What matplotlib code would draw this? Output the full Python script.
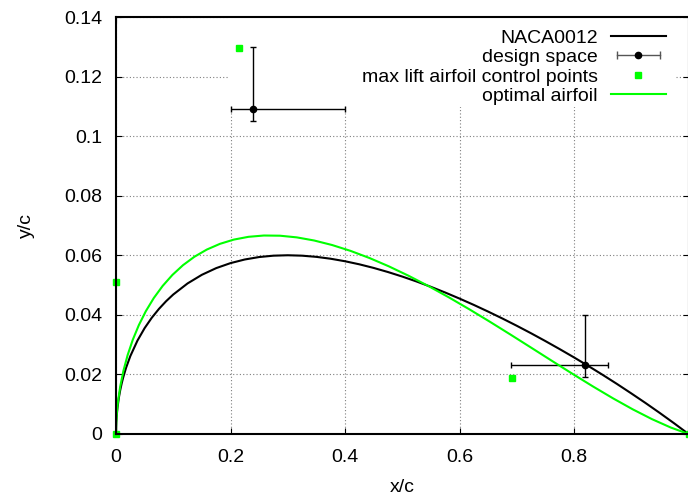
import matplotlib
matplotlib.use("Agg")
import matplotlib.pyplot as plt
from matplotlib.lines import Line2D
from matplotlib.patches import Rectangle
from matplotlib.legend_handler import HandlerLine2D, HandlerTuple
from matplotlib.ticker import FuncFormatter

plt.rcParams['font.family'] = ['Liberation Sans', 'DejaVu Sans']

# NACA0012 upper surface (x/c, y/c)
naca_x = [0.0, 0.0005, 0.001, 0.0025, 0.005, 0.0075, 0.01, 0.0125, 0.0175, 0.025, 0.0375,
          0.05, 0.0625, 0.075, 0.0875, 0.1, 0.125, 0.15, 0.175, 0.2, 0.225, 0.25, 0.275,
          0.3, 0.325, 0.35, 0.375, 0.4, 0.425, 0.45, 0.475, 0.5, 0.525, 0.55, 0.575, 0.6,
          0.625, 0.65, 0.675, 0.7, 0.725, 0.75, 0.775, 0.8, 0.825, 0.85, 0.875, 0.9,
          0.925, 0.95, 0.975, 1.0]
naca_y = [0.0, 0.00395, 0.00556, 0.00872, 0.01221, 0.01485, 0.01704, 0.01894, 0.02218,
          0.02615, 0.03137, 0.03555, 0.03903, 0.04200, 0.04458, 0.04683, 0.05055, 0.05345,
          0.05569, 0.05737, 0.05859, 0.05941, 0.05987, 0.06001, 0.05987, 0.05947, 0.05884,
          0.05800, 0.05697, 0.05576, 0.05438, 0.05286, 0.05120, 0.04941, 0.04750, 0.04547,
          0.04334, 0.04110, 0.03877, 0.03634, 0.03382, 0.03120, 0.02850, 0.02572, 0.02284,
          0.01987, 0.01681, 0.01364, 0.01040, 0.00704, 0.00358, 0.0]

# optimal airfoil (x/c, y/c)
opt_x = [0.0, 0.000129, 0.000515, 0.00158, 0.003226, 0.007292, 0.012991, 0.020334,
         0.02932, 0.03994, 0.052185, 0.066041, 0.081485, 0.098494, 0.117039, 0.137089,
         0.158602, 0.181537, 0.205849, 0.231485, 0.258388, 0.286498, 0.31575, 0.346074,
         0.377396, 0.409637, 0.44272, 0.476538, 0.511018, 0.546056, 0.581551, 0.617399,
         0.653485, 0.689696, 0.725913, 0.762012, 0.797864, 0.833335, 0.868287, 0.90258,
         0.936064, 0.96859, 1.0]
opt_y = [0.0, 0.002055, 0.004139, 0.007305, 0.010507, 0.015878, 0.021233, 0.026507,
         0.031639, 0.036574, 0.041262, 0.045656, 0.049713, 0.053399, 0.056679, 0.059525,
         0.061919, 0.063838, 0.065269, 0.066203, 0.066638, 0.066573, 0.066013, 0.064967,
         0.06345, 0.061483, 0.059086, 0.056291, 0.053128, 0.049636, 0.04586, 0.041844,
         0.037638, 0.033303, 0.028897, 0.024488, 0.020143, 0.015941, 0.01196, 0.008284,
         0.005001, 0.002207, 0.0]

# max lift airfoil control points
ctrl_x = [0.0, 0.0, 0.214, 0.692, 1.0]
ctrl_y = [0.0, 0.051, 0.1295, 0.0188, 0.0]

# design space: centre, x range, y range
ds_x = [0.24, 0.82]
ds_y = [0.109, 0.023]
ds_xlo = [0.20, 0.69]
ds_xhi = [0.40, 0.86]
ds_ylo = [0.105, 0.019]
ds_yhi = [0.130, 0.040]

xticks = [0, 0.2, 0.4, 0.6, 0.8]
yticks = [0, 0.02, 0.04, 0.06, 0.08, 0.1, 0.12, 0.14]
labels = ['NACA0012', 'design space', 'max lift airfoil control points', 'optimal airfoil']

W, H = 688, 496
fig = plt.figure(figsize=(W/100, H/100), dpi=100)
ax = fig.add_axes([116/W, 1-434/H, (688.5-116)/W, (434-17)/H])

ax.plot(naca_x, naca_y, color='black', lw=1.5, zorder=3, clip_on=False,
        solid_joinstyle='round')

xerr = [[c - lo for c, lo in zip(ds_x, ds_xlo)], [hi - c for c, hi in zip(ds_x, ds_xhi)]]
yerr = [[c - lo for c, lo in zip(ds_y, ds_ylo)], [hi - c for c, hi in zip(ds_y, ds_yhi)]]
ax.errorbar(ds_x, ds_y, xerr=xerr, yerr=yerr, fmt='o', color='black', ms=4.5,
            elinewidth=1.0, capsize=2.5, capthick=1.0, zorder=4)

ax.plot(ctrl_x, ctrl_y, 's', color='#00ff00', ms=5, zorder=4.5, clip_on=False, lw=0)
ax.plot(opt_x, opt_y, color='#00ff00', lw=1.5, zorder=5, clip_on=False,
        solid_joinstyle='round')

ax.set_xlim(0, 1)
ax.set_ylim(0, 0.14)
ax.set_xticks(xticks)
ax.set_yticks(yticks)
fmt = FuncFormatter(lambda v, p: ('%g' % round(v, 4)))
ax.xaxis.set_major_formatter(fmt)
ax.yaxis.set_major_formatter(fmt)
ax.tick_params(direction='in', length=4, width=0.8, top=True, right=True,
               labelsize=14, colors='black')
ax.tick_params(axis='y', pad=10)
ax.tick_params(axis='x', pad=11)
for s in ax.spines.values():
    s.set_linewidth(1.5)
    s.set_zorder(6)

ax.grid(True, color='#7f7f7f', linestyle=(0, (1, 2)), lw=0.8)
ax.set_axisbelow(True)

ax.set_xlabel('x/c', fontsize=14, labelpad=9)
ax.set_ylabel('y/c', fontsize=14, labelpad=21)

# opaque key box (as gnuplot draws it)
ax.add_patch(Rectangle((228/W, 1-107/H), (676-228)/W, (107-17)/H,
                       transform=fig.transFigure, facecolor='white',
                       edgecolor='none', zorder=1))

# legend handles
h_naca = Line2D([], [], color='black', lw=1.5)
h_cap = Line2D([], [], color='#555555', lw=1.0, marker='|', ms=6, mew=1.0)
h_dot = Line2D([], [], color='black', lw=0, marker='o', ms=4.5)
h_ctrl = Line2D([], [], color='#00ff00', lw=0, marker='s', ms=5)
h_opt = Line2D([], [], color='#00ff00', lw=1.5)

leg = ax.legend([h_naca, (h_cap, h_dot), h_ctrl, h_opt], labels,
                handler_map={tuple: HandlerTuple(ndivide=1),
                             h_cap: HandlerLine2D(numpoints=2),
                             h_dot: HandlerLine2D(numpoints=1),
                             h_ctrl: HandlerLine2D(numpoints=1)},
                loc='upper right', bbox_to_anchor=(666/W, 1-29/H),
                bbox_transform=fig.transFigure,
                markerfirst=False, fontsize=14, frameon=False,
                handlelength=2.83, handletextpad=0.67, labelspacing=0.1,
                borderpad=0, borderaxespad=0)
leg.set_zorder(2)
for t in leg.get_texts():
    t.set_ha('right')

fig.savefig('out.png', dpi=100)
